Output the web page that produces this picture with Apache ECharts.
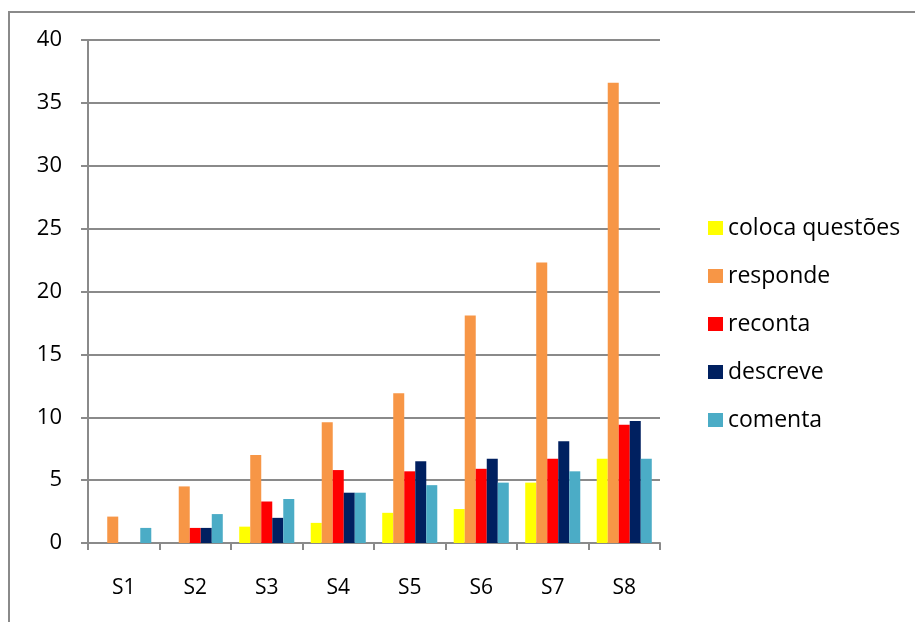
<!DOCTYPE html>
<html>
<head>
<meta charset="utf-8">
<script src="https://cdn.jsdelivr.net/npm/echarts@6/dist/echarts.min.js"></script>
<style>
  html, body { margin: 0; padding: 0; background: #fff; }
  #chart { width: 915px; height: 622px; }
</style>
</head>
<body>
<div id="chart"></div>
<script>
// Sessions on the category axis
const categories = ['S1', 'S2', 'S3', 'S4', 'S5', 'S6', 'S7', 'S8'];

// Counts per behaviour, one array per series
const colocaQuestoes = [0, 0, 1.3, 1.6, 2.4, 2.7, 4.8, 6.7];
const responde = [2.1, 4.5, 7.0, 9.6, 11.9, 18.1, 22.3, 36.6];
const reconta = [0, 1.2, 3.3, 5.8, 5.7, 5.9, 6.7, 9.4];
const descreve = [0, 1.2, 2.0, 4.0, 6.5, 6.7, 8.1, 9.7];
const comenta = [1.2, 2.3, 3.5, 4.0, 4.6, 4.8, 5.7, 6.7];

const seriesNames = ['coloca questões', 'responde', 'reconta', 'descreve', 'comenta'];
const seriesData = [colocaQuestoes, responde, reconta, descreve, comenta];
const seriesColors = ['#FFFF00', '#F79646', '#FF0000', '#002060', '#4BACC6'];

const FONT = 'Open Sans';
const GRID_GRAY = '#8a8a8a';

const chart = echarts.init(document.getElementById('chart'), null, { renderer: 'canvas' });

chart.setOption({
  backgroundColor: '#ffffff',
  animation: false,
  textStyle: { fontFamily: FONT, color: '#000' },
  graphic: [{
    type: 'rect',
    shape: { x: 9, y: 12, width: 1000, height: 800 },
    style: { fill: 'none', stroke: GRID_GRAY, lineWidth: 2 },
    silent: true
  }],
  grid: { left: 88, right: 255, top: 40, bottom: 79 },
  legend: {
    orient: 'vertical',
    left: 703,
    top: 211,
    icon: 'rect',
    itemWidth: 15,
    itemHeight: 14,
    itemGap: 24,
    data: seriesNames,
    textStyle: {
      fontFamily: FONT,
      fontSize: 23,
      lineHeight: 24,
      color: '#000'
    }
  },
  xAxis: {
    type: 'category',
    data: categories,
    axisLine: { lineStyle: { color: GRID_GRAY, width: 2 } },
    axisTick: { show: true, alignWithLabel: false, length: 7, lineStyle: { color: GRID_GRAY, width: 2 } },
    axisLabel: { fontFamily: FONT, fontSize: 21, color: '#000', margin: 35 }
  },
  yAxis: {
    type: 'value',
    min: 0,
    max: 40,
    interval: 5,
    axisLine: { show: true, lineStyle: { color: GRID_GRAY, width: 2 } },
    axisTick: { show: true, length: 7, lineStyle: { color: GRID_GRAY, width: 2 } },
    axisLabel: { fontFamily: FONT, fontSize: 22, color: '#000', margin: 26 },
    splitLine: { show: true, lineStyle: { color: GRID_GRAY, width: 2 } }
  },
  series: seriesNames.map((name, i) => ({
    name: name,
    type: 'bar',
    data: seriesData[i],
    itemStyle: { color: seriesColors[i] },
    barGap: '0%',
    barCategoryGap: '23%'
  }))
});
</script>
</body>
</html>
